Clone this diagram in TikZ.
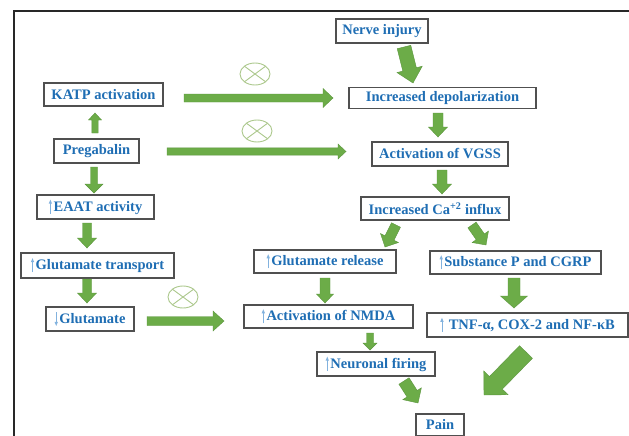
\documentclass[tikz,border=0pt]{standalone}
\usepackage{fontspec}
\setmainfont{Liberation Serif}
\usetikzlibrary{calc}
\definecolor{txtblue}{RGB}{31,110,180}
\definecolor{agreen}{RGB}{108,172,72}
\definecolor{agreenD}{RGB}{92,150,62}
\definecolor{xgreen}{RGB}{172,200,140}
\definecolor{boxgray}{RGB}{80,80,80}
\definecolor{smallblue}{RGB}{130,178,222}
\definecolor{framec}{RGB}{40,40,40}
\newcommand\upar{\tikz[x=1pt,y=1pt,baseline=0pt]{\draw[smallblue,line width=0.8pt] (0,-2.5) -- (0,8);\fill[smallblue] (-1.7,7.5) -- (1.7,7.5) -- (0,11.5) -- cycle;}\hspace{1.5pt}}
\newcommand\dnar{\tikz[x=1pt,y=1pt,baseline=0pt]{\draw[smallblue,line width=0.8pt] (0,11) -- (0,1);\fill[smallblue] (-1.7,1.5) -- (1.7,1.5) -- (0,-2.5) -- cycle;}\hspace{1.5pt}}
\newcommand\barrow[5]{%
  \path ($(#2)!#5!(#1)$) coordinate (bm);
  \filldraw[barr] ($(#1)!#3!90:(#2)$) -- ($(bm)!#3!90:(#2)$) -- ($(bm)!#4!90:(#2)$) -- (#2) -- ($(bm)!#4!-90:(#2)$) -- ($(bm)!#3!-90:(#2)$) -- ($(#1)!#3!-90:(#2)$) -- cycle;}
\tikzset{
  box/.style={draw=boxgray, line width=1.1pt, fill=white, text=txtblue,
    font=\fontsize{14.5}{16}\selectfont\bfseries, inner sep=0pt, minimum height=23pt},
  barr/.style={fill=agreen, draw=agreenD, line width=0.4pt, line join=miter},
  xring/.style={draw=xgreen, line width=0.9pt}
}
\begin{document}
\begin{tikzpicture}[x=1pt,y=-1pt]
\useasboundingbox (0,0) rectangle (629,436);
\fill[white] (0,0) rectangle (629,436);
% frame
\draw[framec, line width=2.6pt] (14,436) -- (14,11);
\draw[framec, line width=2pt] (13,11) -- (629,11);
% nodes
\node[box, minimum width=92pt, minimum height=24pt] (nerve) at (382,31) {Nerve injury};
\node[box, minimum width=187pt, minimum height=21pt] (depol) at (442.5,98) {Increased depolarization};
\node[box, minimum width=136pt, minimum height=24pt] (vgss) at (440,154) {Activation of VGSS};
\node[box, minimum width=148pt, minimum height=23pt] (ca) at (435,208.5) {Increased Ca\textsuperscript{+2} influx};
\node[box, minimum width=119pt, minimum height=23pt] (katp) at (103.5,94.5) {KATP activation};
\node[box, minimum width=85pt, minimum height=24pt] (preg) at (96.5,151) {Pregabalin};
\node[box, minimum width=117pt, minimum height=24pt] (eaat) at (95.5,207) {\upar EAAT activity};
\node[box, minimum width=153pt, minimum height=25pt] (gtrans) at (97.5,265.5) {\upar Glutamate transport};
\node[box, minimum width=88pt, minimum height=24pt] (glu) at (90,319) {\dnar Glutamate};
\node[box, minimum width=142pt, minimum height=23pt] (grel) at (325,261.5) {\upar Glutamate release};
\node[box, minimum width=169pt, minimum height=23pt] (nmda) at (328.5,316.5) {\upar Activation of NMDA};
\node[box, minimum width=118pt, minimum height=24pt] (fire) at (376,364) {\upar Neuronal firing};
\node[box, minimum width=171pt, minimum height=23pt] (subp) at (515.5,262.5) {\upar Substance P and CGRP};
\node[box, minimum width=201pt, minimum height=24pt] (tnf) at (527.5,325) {\upar\ TNF-α, COX-2 and NF-κB};
\node[box, minimum width=48pt, minimum height=22pt] (pain) at (440,425) {Pain};
% arrow end points
\coordinate (a1s) at (184,98);  \coordinate (a1e) at (333,98);
\coordinate (a2s) at (167,151.5); \coordinate (a2e) at (346,151.5);
\coordinate (a3s) at (147,321); \coordinate (a3e) at (224,321);
\coordinate (b1s) at (95,133); \coordinate (b1e) at (95,113);
\coordinate (b2s) at (94,167); \coordinate (b2e) at (94,193);
\coordinate (b3s) at (87,223); \coordinate (b3e) at (87,248);
\coordinate (b4s) at (87,279); \coordinate (b4e) at (87,303);
\coordinate (c1s) at (404,47); \coordinate (c1e) at (413,83);
\coordinate (c2s) at (438,113); \coordinate (c2e) at (438,137);
\coordinate (c3s) at (442,170); \coordinate (c3e) at (442,194);
\coordinate (c4s) at (396,225); \coordinate (c4e) at (385,247);
\coordinate (c5s) at (472,225); \coordinate (c5e) at (486,245);
\coordinate (c6s) at (325,278); \coordinate (c6e) at (325,303);
\coordinate (c7s) at (514,278); \coordinate (c7e) at (514,308);
\coordinate (c8s) at (370,333); \coordinate (c8e) at (370,350);
\coordinate (c9s) at (404,381); \coordinate (c9e) at (418,403);
\coordinate (c10s) at (526,352); \coordinate (c10e) at (484,395);
% block arrows
\barrow{a1s}{a1e}{4pt}{9.5pt}{10pt}
\barrow{a2s}{a2e}{3.6pt}{7.5pt}{8pt}
\barrow{a3s}{a3e}{4.5pt}{10pt}{11pt}
\barrow{b1s}{b1e}{3.2pt}{6.5pt}{7pt}
\barrow{b2s}{b2e}{3.5pt}{9pt}{9pt}
\barrow{b3s}{b3e}{4.5pt}{9.5pt}{10pt}
\barrow{b4s}{b4e}{4.5pt}{9.5pt}{10pt}
\barrow{c1s}{c1e}{7pt}{13pt}{14pt}
\barrow{c2s}{c2e}{5pt}{9.5pt}{10pt}
\barrow{c3s}{c3e}{5pt}{9.5pt}{10pt}
\barrow{c4s}{c4e}{5pt}{10pt}{10pt}
\barrow{c5s}{c5e}{5pt}{10pt}{10pt}
\barrow{c6s}{c6e}{5pt}{8.5pt}{9pt}
\barrow{c7s}{c7e}{6pt}{13.5pt}{12pt}
\barrow{c8s}{c8e}{3.5pt}{7pt}{7pt}
\barrow{c9s}{c9e}{6pt}{11pt}{11pt}
\barrow{c10s}{c10e}{9pt}{17pt}{17pt}
% crossed circles
\foreach \cx/\cy in {255/74, 257/131, 183/297}{
  \draw[xring] (\cx,\cy) ellipse [x radius=15, y radius=11];
  \draw[xring] (\cx-10.6,\cy-7.8) -- (\cx+10.6,\cy+7.8);
  \draw[xring] (\cx-10.6,\cy+7.8) -- (\cx+10.6,\cy-7.8);
}
\end{tikzpicture}
\end{document}
